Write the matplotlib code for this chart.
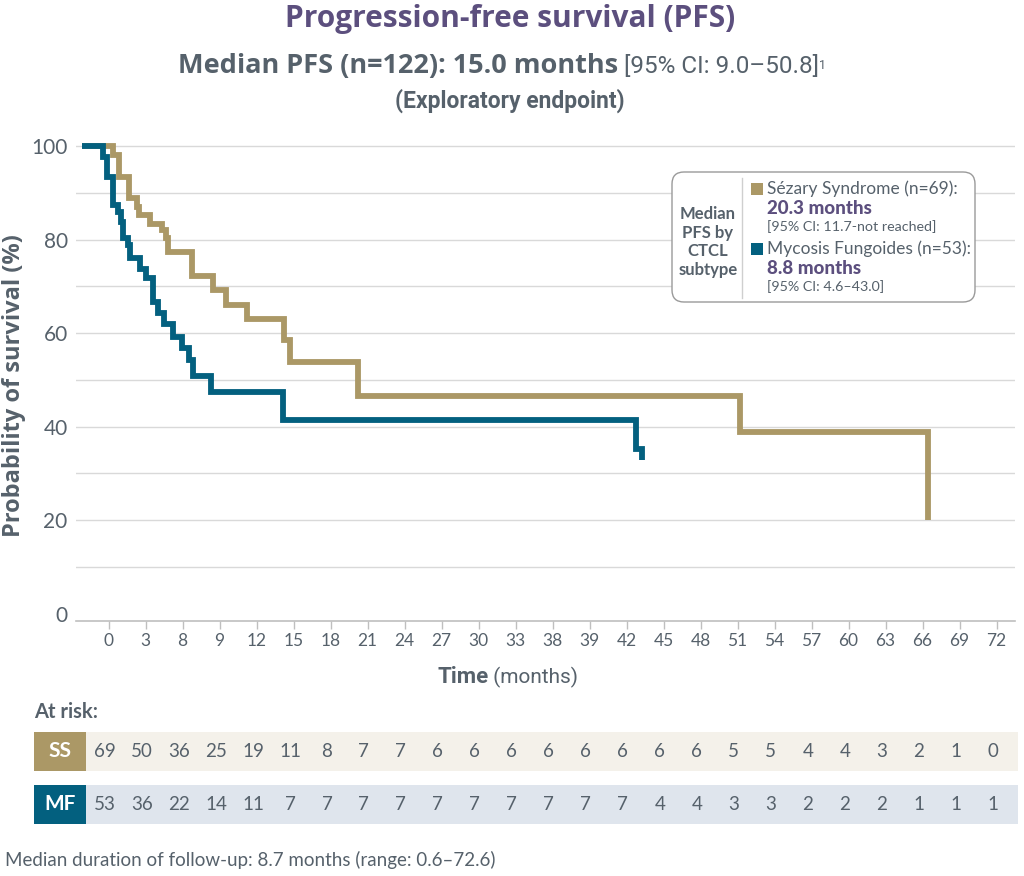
import matplotlib
matplotlib.use("Agg")
import matplotlib.pyplot as plt
from matplotlib.patches import FancyBboxPatch, Rectangle

# data
ss_time = [-2.2, 0.37, 0.86, 1.65, 2.27, 2.43, 3.35, 4.30, 4.65, 4.83, 6.78, 8.48,
           9.49, 11.24, 14.22, 14.70, 20.19, 51.21, 66.47]
ss_surv = [100, 98.1, 93.4, 88.8, 87.0, 85.2, 83.3, 82.0, 80.3, 77.4, 72.3, 69.2,
           66.0, 63.0, 58.5, 53.7, 46.6, 38.9, 20.0]
mf_time = [-2.2, -0.44, -0.16, 0.32, 0.78, 1.0, 1.18, 1.59, 1.73, 2.54, 3.04, 3.62,
           4.02, 4.49, 5.24, 5.97, 6.54, 6.86, 8.30, 14.16, 42.74, 43.23]
mf_surv = [100, 97.7, 93.4, 87.4, 86.0, 83.8, 80.3, 78.8, 76.0, 73.8, 71.7, 66.7,
           64.2, 61.9, 59.2, 56.7, 54.2, 50.8, 47.4, 41.5, 35.3, 32.8]

tick_months = list(range(0, 73, 3))
tick_labels = ['0', '3', '8', '9', '12', '15', '18', '21', '24', '27', '30', '33', '38',
               '39', '42', '45', '48', '51', '54', '57', '60', '63', '66', '69', '72']
ss_risk = [69, 50, 36, 25, 19, 11, 8, 7, 7, 6, 6, 6, 6, 6, 6, 6, 6, 5, 5, 4, 4, 3, 2, 1, 0]
mf_risk = [53, 36, 22, 14, 11, 7, 7, 7, 7, 7, 7, 7, 7, 7, 7, 4, 4, 3, 3, 2, 2, 2, 1, 1, 1]

# colours / fonts
GOLD = '#ab9866'
BLUE = '#03607f'
PURPLE = '#5c4f7e'
GRAY = '#56616b'
GRID = '#d9d9d9'
plt.rcParams['font.family'] = ['Lato', 'DejaVu Sans']

W, H = 1024, 876
fig = plt.figure(figsize=(W / 100, H / 100), dpi=100)

# main plot
ax = fig.add_axes([76 / W, (H - 620.7) / H, (1015 - 76) / W, (620.7 - 140) / H])
ax.step(ss_time, ss_surv, where='post', color=GOLD, lw=4.2, solid_joinstyle='miter',
        solid_capstyle='butt', clip_on=False, zorder=3)
ax.step(mf_time, mf_surv, where='post', color=BLUE, lw=4.2, solid_joinstyle='miter',
        solid_capstyle='butt', clip_on=False, zorder=4)
ax.set_xlim(-2.65, 73.5)
ax.set_ylim(-1.54, 101.3)

ax.set_yticks(range(0, 101, 10))
ax.set_yticklabels([str(v) if v % 20 == 0 else '' for v in range(0, 101, 10)])
ax.yaxis.grid(True, color=GRID, lw=1)
ax.get_ygridlines()[0].set_visible(False)
ax.tick_params(axis='y', length=0, pad=6, labelsize=15, labelcolor=GRAY)

ax.set_xticks(tick_months)
ax.set_xticklabels(tick_labels)
ax.tick_params(axis='x', length=5.5, width=1, color='#bfbfbf', pad=3,
               labelsize=12.5, labelcolor=GRAY)
for s in ['top', 'right', 'left']:
    ax.spines[s].set_visible(False)
ax.spines['bottom'].set_color('#bfbfbf')
ax.spines['bottom'].set_linewidth(1.2)
ax.set_axisbelow(True)

# overlay axes in pixel units for the free text and legend
bg = fig.add_axes([0, 0, 1, 1], zorder=10)
bg.set_xlim(0, W)
bg.set_ylim(H, 0)
bg.axis('off')

# titles
bg.text(510, 19, 'Progression-free survival (PFS)', ha='center', va='center',
        fontsize=21.5, fontweight='bold', family='Open Sans', fontstretch='condensed',
        color=PURPLE)
t1 = bg.text(178, 66, 'Median PFS (n=122): 15.0 months', ha='left', va='center',
             fontsize=19.5, fontweight='bold', family='Open Sans', fontstretch='condensed',
             color=GRAY)
t2 = bg.annotate(' [95% CI: 9.0–50.8]', xy=(1, 0.02), xycoords=t1, ha='left', va='bottom',
                 fontsize=17.5, family='Roboto', color=GRAY)
bg.annotate('1', xy=(1, 0.85), xycoords=t2, ha='left', va='top', fontsize=9,
            family='Roboto', color=GRAY)
bg.text(510, 101, '(Exploratory endpoint)', ha='center', va='center',
        fontsize=16.5, fontweight='bold', family='Roboto', color=GRAY)

# axis labels
bg.text(14, 386, 'Probability of survival (%)', rotation=90, ha='center', va='center',
        fontsize=17, fontweight='bold', family='Open Sans', fontstretch='condensed',
        color=GRAY)
tx = bg.text(437, 677, 'Time', ha='left', va='center', fontsize=16,
             fontweight='bold', family='Roboto', fontstretch='condensed', color=GRAY)
bg.annotate(' (months)', xy=(1, 0), xycoords=tx, ha='left', va='bottom',
            fontsize=15, family='Roboto', fontstretch='condensed', color=GRAY)

# legend box
bg.add_patch(FancyBboxPatch((672, 172), 303, 130, boxstyle='round,pad=0,rounding_size=12',
                            fc='white', ec='#9a9a9a', lw=1, zorder=5))
bg.plot([742, 742], [178, 298], color='#cfcfcf', lw=1, zorder=6)
bg.text(708, 242, 'Median\nPFS by\nCTCL\nsubtype', ha='center', va='center',
        fontsize=12, fontweight='bold', color=GRAY, linespacing=1.2, zorder=6)
bg.add_patch(Rectangle((751, 183), 12, 12, fc=GOLD, ec='none', zorder=6))
bg.add_patch(Rectangle((751, 243), 12, 12, fc=BLUE, ec='none', zorder=6))
bg.text(767, 189, 'Sézary Syndrome (n=69):', ha='left', va='center', fontsize=12.5,
        color=GRAY, zorder=6)
bg.text(767, 208, '20.3 months', ha='left', va='center', fontsize=13.5, fontweight='black',
        color=PURPLE, zorder=6)
bg.text(767, 227, '[95% CI: 11.7-not reached]', ha='left', va='center', fontsize=10.3,
        color=GRAY, zorder=6)
bg.text(767, 249, 'Mycosis Fungoides (n=53):', ha='left', va='center', fontsize=12.5,
        color=GRAY, zorder=6)
bg.text(767, 269, '8.8 months', ha='left', va='center', fontsize=13.5, fontweight='black',
        color=PURPLE, zorder=6)
bg.text(767, 287, '[95% CI: 4.6–43.0]', ha='left', va='center', fontsize=10.3,
        color=GRAY, zorder=6)

# at-risk table, same month scale as the plot
bg.text(34, 712, 'At risk:', ha='left', va='center', fontsize=14.5, fontweight='bold',
        color=GRAY)
tab = fig.add_axes([34 / W, (H - 824) / H, (1018 - 34) / W, (824 - 731.7) / H])
tab.set_xlim(-6.06, 73.75)
tab.set_ylim(92.3, 0)
tab.axis('off')
rows = [('SS', ss_risk, GOLD, '#f4f1ea', 0), ('MF', mf_risk, BLUE, '#dfe5ed', 53.3)]
for name, vals, c, bgc, y0 in rows:
    tab.add_patch(Rectangle((-6.06, y0), 4.22, 39, fc=c, ec='none'))
    tab.add_patch(Rectangle((-1.84, y0), 75.59, 39, fc=bgc, ec='none'))
    tab.text(-3.95, y0 + 19.5, name, ha='center', va='center', color='white',
             fontsize=15, fontweight='bold')
    for m, v in zip(tick_months, vals):
        tab.text(m - 0.3, y0 + 19.5, str(v), ha='center', va='center', color=GRAY,
                 fontsize=13.5)

bg.text(5, 860, 'Median duration of follow-up: 8.7 months (range: 0.6–72.6)',
        ha='left', va='center', fontsize=13.5, color=GRAY)

fig.savefig('out.png', dpi=100)
